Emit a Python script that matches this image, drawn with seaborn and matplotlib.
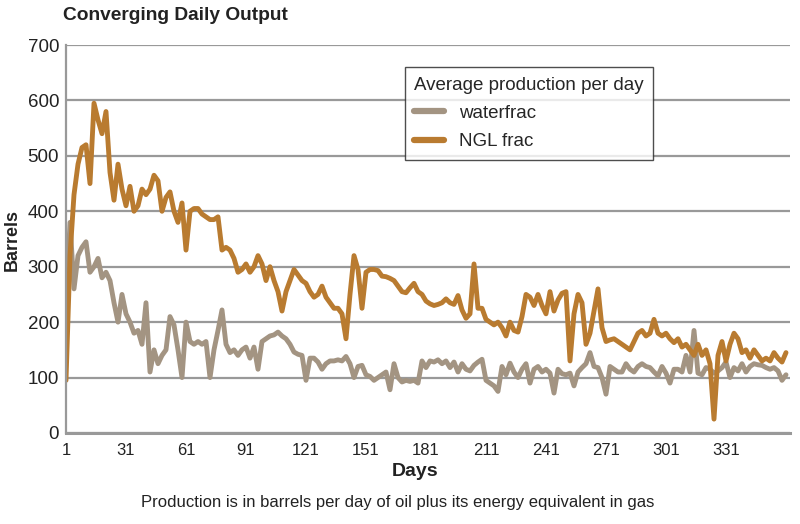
import numpy as np
import pandas as pd
import matplotlib
matplotlib.use("Agg")
import matplotlib.pyplot as plt
import seaborn as sns

# daily output, read every second day off the chart
days = np.arange(1, 362, 2)

ngl_frac = [
    95, 320, 430, 485, 515, 520, 450, 595, 565, 540,      # day 1-19
    580, 470, 420, 485, 440, 410, 445, 400, 410, 440,     # day 21-39
    430, 440, 465, 455, 400, 425, 435, 400, 380, 415,     # day 41-59
    330, 400, 405, 405, 395, 390, 385, 385, 390, 330,     # day 61-79
    335, 330, 315, 290, 295, 305, 290, 300, 320, 305,     # day 81-99
    275, 300, 275, 255, 220, 255, 275, 295, 285, 275,     # day 101-119
    270, 255, 245, 250, 265, 245, 235, 225, 225, 215,     # day 121-139
    170, 250, 320, 295, 225, 290, 295, 295, 293, 283,     # day 141-159
    282, 279, 275, 265, 255, 253, 262, 270, 255, 250,     # day 161-179
    238, 233, 230, 232, 235, 242, 235, 232, 248, 222,     # day 181-199
    207, 215, 305, 225, 225, 205, 200, 195, 200, 190,     # day 201-219
    175, 200, 185, 182, 210, 250, 245, 230, 250, 230,     # day 221-239
    215, 255, 220, 240, 252, 255, 130, 215, 250, 235,     # day 241-259
    160, 180, 220, 260, 190, 165, 168, 170, 165, 160,     # day 261-279
    155, 150, 165, 180, 185, 175, 180, 205, 180, 175,     # day 281-299
    180, 170, 163, 170, 155, 160, 150, 140, 160, 140,     # day 301-319
    150, 125, 25, 140, 165, 130, 160, 180, 170, 145,      # day 321-339
    150, 135, 150, 140, 130, 135, 130, 145, 135, 128,     # day 341-359
    145,                                                  # day 361
]

waterfrac = [
    230, 380, 260, 320, 335, 345, 290, 300, 315, 280,
    290, 275, 235, 200, 250, 215, 200, 180, 185, 160,
    235, 110, 150, 125, 140, 150, 210, 195, 150, 100,
    200, 165, 160, 165, 160, 165, 100, 150, 185, 222,
    160, 145, 150, 140, 150, 155, 135, 155, 115, 165,
    170, 175, 177, 182, 175, 170, 160, 146, 142, 140,
    95, 135, 135, 128, 115, 125, 130, 130, 132, 130,
    138, 125, 100, 120, 122, 105, 102, 95, 100, 105,
    110, 78, 125, 100, 92, 95, 93, 95, 90, 130,
    118, 130, 128, 132, 125, 130, 118, 128, 110, 125,
    115, 112, 122, 128, 133, 95, 90, 85, 75, 120,
    105, 126, 110, 100, 115, 125, 90, 115, 120, 110,
    115, 108, 72, 115, 107, 105, 108, 85, 110, 118,
    125, 145, 120, 118, 100, 70, 120, 115, 110, 110,
    125, 115, 110, 120, 125, 120, 118, 110, 103, 120,
    108, 90, 115, 115, 110, 140, 110, 185, 108, 105,
    118, 115, 108, 112, 118, 128, 100, 118, 112, 125,
    110, 120, 125, 123, 122, 118, 115, 118, 112, 95,
    105,
]

series_names = ["waterfrac", "NGL frac"]
palette = {"waterfrac": "#a39482", "NGL frac": "#b97b30"}

df = pd.DataFrame({
    "Days": np.concatenate([days, days]),
    "Barrels": waterfrac + ngl_frac,
    "series": ["waterfrac"] * len(days) + ["NGL frac"] * len(days),
})

sns.set_style("white")
plt.rcParams["font.family"] = ["Liberation Sans", "DejaVu Sans"]

fig = plt.figure(figsize=(8, 5.24), dpi=100)
ax = fig.add_axes([0.0825, 0.1737, 0.905, 0.7404])

sns.lineplot(data=df, x="Days", y="Barrels", hue="series", hue_order=series_names,
             palette=palette, linewidth=3.5, estimator=None, ax=ax)

ax.set_xlim(1, 363)
ax.set_ylim(0, 700)
ax.set_xticks(np.arange(1, 332, 30))
ax.set_yticks(np.arange(0, 701, 100))
ax.yaxis.grid(True, color="#999999", linewidth=1.6)
ax.set_axisbelow(True)
for side in ["top", "right"]:
    ax.spines[side].set_visible(False)
ax.spines["left"].set_color("#999999")
ax.spines["left"].set_linewidth(1.6)
ax.spines["bottom"].set_color("#999999")
ax.spines["bottom"].set_linewidth(2.2)
ax.tick_params(axis="y", length=4, width=1.2, color="#999999", pad=1, labelsize=13.5, labelcolor="#222222")
ax.tick_params(axis="x", length=0, pad=7, labelsize=12, labelcolor="#222222")

ax.set_xlabel("Days", fontsize=14, fontweight="bold", color="#222222")
ax.xaxis.set_label_coords(0.482, -0.098)
ax.xaxis.label.set_va("center")
ax.set_ylabel("Barrels", fontsize=13, fontweight="bold", color="#222222")
ax.yaxis.set_label_coords(-0.0746, 0.497)
ax.yaxis.label.set_va("center")

leg = ax.legend(title="Average production per day", loc="upper left",
                bbox_to_anchor=(0.468, 0.943), borderaxespad=0, frameon=True,
                fancybox=False, edgecolor="#222222", fontsize=13.5, title_fontsize=13.5,
                handlelength=1.6, handletextpad=0.8, labelspacing=0.6, borderpad=0.5,
                alignment="left")
leg.get_frame().set_linewidth(1.0)
for line in leg.get_lines():
    line.set_linewidth(4.5)
    line.set_solid_capstyle("round")

fig.text(63 / 800, 1 - 15 / 524, "Converging Daily Output", fontsize=13.8,
         fontweight="bold", color="#222222", ha="left", va="center")
fig.text(398 / 800, 1 - 503 / 524,
         "Production is in barrels per day of oil plus its energy equivalent in gas",
         fontsize=12, color="#222222", ha="center", va="center")

fig.savefig("out.png", dpi=100)
